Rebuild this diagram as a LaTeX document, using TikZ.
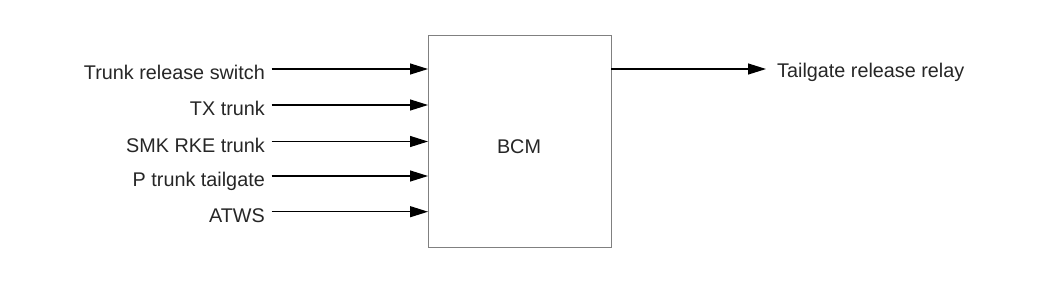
\documentclass[tikz,border=0pt]{standalone}
\usepackage{fontspec}
\setmainfont{Liberation Sans}
\usetikzlibrary{arrows.meta}
\begin{document}
\begin{tikzpicture}[x=1pt,y=-1pt,
  lbl/.style={font=\fontsize{19.8}{22}\selectfont, text=black!85, inner sep=0pt},
  sig/.style={line width=1.2pt, -{Triangle[length=18pt,width=11pt]}},
  box/.style={draw=black!50, line width=1.4pt, fill=white}]
\useasboundingbox (0,0) rectangle (1050,282);
\node[box, minimum width=183pt, minimum height=212pt, anchor=north west, inner sep=0pt] (bcm) at (428,34.5) {};
\node[lbl, anchor=base] (bcmlbl) at (519,153.3) {BCM};
\coordinate (i1) at (428,69);
\coordinate (i2) at (428,105);
\coordinate (i3) at (428,141.5);
\coordinate (i4) at (428,176);
\coordinate (i5) at (428,211.7);
\node[lbl, anchor=base east] (l1) at (265,79.5) {Trunk release switch};
\node[lbl, anchor=base east] (l2) at (265,115.5) {TX trunk};
\node[lbl, anchor=base east] (l3) at (265,152) {SMK RKE trunk};
\node[lbl, anchor=base east] (l4) at (265,186.5) {P trunk tailgate};
\node[lbl, anchor=base east] (l5) at (265,222.2) {ATWS};
\foreach \i in {1,...,5} \draw[sig] ([xshift=6.5pt]i\i -| l\i.east) -- (i\i);
\coordinate (o1) at (611,69);
\node[lbl, anchor=base west] (out) at (777,77.7) {Tailgate release relay};
\draw[sig] (o1) -- ([xshift=-11pt]o1 -| out.west);
\end{tikzpicture}
\end{document}
